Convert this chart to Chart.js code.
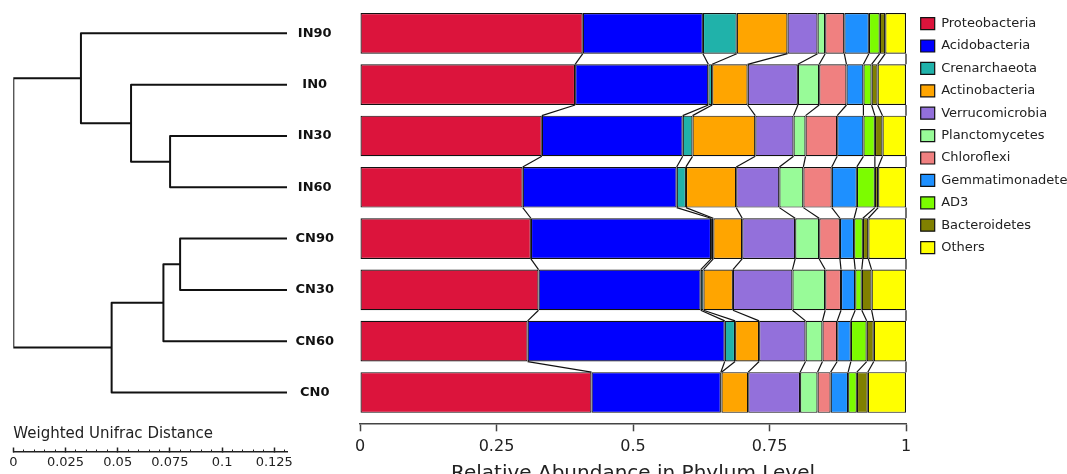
<!DOCTYPE html>
<html>
<head>
<meta charset="utf-8">
<script src="https://cdn.jsdelivr.net/npm/chart.js@4/dist/chart.umd.min.js"></script>
<style>
  body { margin: 0; background: #fff; }
  #wrap { position: relative; width: 1067px; height: 474px; background: #fff; }
  canvas { position: absolute; left: 0; top: 0; }
</style>
</head>
<body>
<div id="wrap">
  <canvas id="treeChart" width="1067" height="474"></canvas>
  <canvas id="barChart" width="1067" height="474"></canvas>
</div>
<script>
// Samples, top to bottom
const samples = ["IN90", "IN0", "IN30", "IN60", "CN90", "CN30", "CN60", "CN0"];

const phyla = [
  "Proteobacteria", "Acidobacteria", "Crenarchaeota", "Actinobacteria",
  "Verrucomicrobia", "Planctomycetes", "Chloroflexi", "Gemmatimonadetes",
  "AD3", "Bacteroidetes", "Others",
];

// Relative abundance per phylum, in sample order
const proteobacteria = [0.408, 0.394, 0.333, 0.298, 0.313, 0.327, 0.307, 0.424];
const acidobacteria = [0.220, 0.244, 0.258, 0.282, 0.330, 0.297, 0.361, 0.237];
const crenarchaeota = [0.062, 0.007, 0.018, 0.017, 0.004, 0.005, 0.019, 0.001];
const actinobacteria = [0.093, 0.065, 0.115, 0.092, 0.053, 0.054, 0.044, 0.049];
const verrucomicrobia = [0.055, 0.092, 0.070, 0.079, 0.097, 0.109, 0.085, 0.095];
const planctomycetes = [0.014, 0.039, 0.022, 0.044, 0.044, 0.060, 0.031, 0.032];
const chloroflexi = [0.035, 0.050, 0.058, 0.052, 0.038, 0.029, 0.027, 0.024];
const gemmatimonadetes = [0.045, 0.031, 0.048, 0.046, 0.026, 0.026, 0.025, 0.032];
const ad3 = [0.020, 0.015, 0.021, 0.033, 0.016, 0.012, 0.029, 0.016];
const bacteroidetes = [0.010, 0.011, 0.014, 0.006, 0.010, 0.018, 0.013, 0.020];
const others = [0.038, 0.052, 0.043, 0.051, 0.069, 0.063, 0.059, 0.070];

const abundance = [
  proteobacteria, acidobacteria, crenarchaeota, actinobacteria,
  verrucomicrobia, planctomycetes, chloroflexi, gemmatimonadetes,
  ad3, bacteroidetes, others,
];

// Tree merges: [child a, child b, height]; new nodes get ids 8, 9, ...
const merges = [
  [2, 3, 0.056],
  [1, 8, 0.0747],
  [0, 9, 0.0987],
  [4, 5, 0.0512],
  [11, 6, 0.0592],
  [12, 7, 0.084],
  [10, 13, 0.1311],
];

const abundanceTicks = [0, 0.25, 0.5, 0.75, 1];
const distanceTicks = [0, 0.025, 0.05, 0.075, 0.1, 0.125];

const phylumColors = [
  "#DC143C", "#0000FF", "#20B2AA", "#FFA500", "#9370DB", "#98FB98",
  "#F08080", "#1E90FF", "#7CFC00", "#808000", "#FFFF00",
];

Chart.defaults.font.family = "'DejaVu Sans', sans-serif";
Chart.defaults.color = "#222";

// Build dendrogram links from the merges
const nodeY = samples.map((_, i) => i);
const nodeH = samples.map(() => 0);
const links = merges.map(([a, b, h]) => {
  const link = [
    { x: nodeH[a], y: nodeY[a] },
    { x: h, y: nodeY[a] },
    { x: h, y: nodeY[b] },
    { x: nodeH[b], y: nodeY[b] },
  ];
  nodeY.push((nodeY[a] + nodeY[b]) / 2);
  nodeH.push(h);
  return link;
});
const treeMax = merges[merges.length - 1][2];

new Chart(document.getElementById("treeChart"), {
  type: "scatter",
  data: {
    datasets: links.map((link) => ({
      data: link,
      showLine: true,
      pointRadius: 0,
      borderColor: "#111",
      borderWidth: 2,
      borderJoinStyle: "round",
      tension: 0,
    })),
  },
  options: {
    responsive: false,
    animation: false,
    layout: { padding: { left: 13.3, right: 780, top: 7.7, bottom: 0 } },
    plugins: { legend: { display: false }, tooltip: { enabled: false } },
    scales: {
      x: { type: "linear", reverse: true, min: 0, max: treeMax, display: false },
      y: { type: "linear", reverse: true, min: -0.5, max: 7.6, display: false },
      distTitle: {
        axis: "x",
        type: "linear",
        position: "bottom",
        weight: 1,
        min: 0,
        max: treeMax,
        ticks: { display: false },
        grid: { display: false, drawTicks: false },
        border: { display: false },
        title: {
          display: true,
          text: "Weighted Unifrac Distance",
          align: "start",
          font: { size: 15 },
          padding: { top: 0, bottom: 9.3 },
        },
        afterFit: (s) => { s.height = 28.7; },
      },
      distMinor: {
        axis: "x",
        type: "linear",
        position: "bottom",
        weight: 2,
        min: 0,
        max: treeMax,
        ticks: { display: false, stepSize: 0.005, includeBounds: false },
        grid: { drawOnChartArea: false, tickLength: -2.5, tickColor: "#222", tickWidth: 1 },
        border: { display: false },
        afterFit: (s) => { s.height = 0; },
      },
      distMajor: {
        axis: "x",
        type: "linear",
        position: "bottom",
        weight: 3,
        min: 0,
        max: treeMax,
        afterBuildTicks: (s) => { s.ticks = distanceTicks.map((v) => ({ value: v })); },
        ticks: {
          callback: (v) => String(v),
          padding: 7,
          font: { size: 13 },
          autoSkip: false,
          maxRotation: 0,
        },
        grid: { drawOnChartArea: false, tickLength: -4.5, tickColor: "#222", tickWidth: 1.5 },
        border: { display: true, color: "#222", width: 1.5 },
        afterFit: (s) => { s.height = 22; },
      },
    },
  },
});

// Lines joining the segment boundaries of neighbouring bars
const connectorLines = {
  id: "connectorLines",
  afterDatasetsDraw(chart) {
    const ctx = chart.ctx;
    ctx.save();
    ctx.strokeStyle = "#111";
    ctx.lineWidth = 1.2;
    chart.data.datasets.forEach((ds, k) => {
      const bars = chart.getDatasetMeta(k).data;
      for (let i = 0; i < bars.length - 1; i++) {
        const a = bars[i];
        const b = bars[i + 1];
        ctx.beginPath();
        ctx.moveTo(a.x, a.y + a.height / 2);
        ctx.lineTo(b.x, b.y - b.height / 2);
        ctx.stroke();
      }
    });
    ctx.restore();
  },
};

new Chart(document.getElementById("barChart"), {
  type: "bar",
  data: {
    datasets: phyla.map((name, k) => ({
      label: name,
      data: abundance[k].map((v, i) => ({ x: v, y: i })),
      backgroundColor: phylumColors[k],
      borderColor: "#111",
      borderWidth: 1.2,
      borderSkipped: false,
      barPercentage: 0.793,
      categoryPercentage: 1,
    })),
  },
  plugins: [connectorLines],
  options: {
    indexAxis: "y",
    responsive: false,
    animation: false,
    layout: { padding: { left: 0, right: 0, top: 7.7, bottom: 0 } },
    plugins: {
      tooltip: { enabled: false },
      legend: {
        position: "right",
        align: "start",
        maxWidth: 155.7,
        labels: {
          boxWidth: 14,
          boxHeight: 12,
          padding: 9.4,
          font: { size: 13 },
          color: "#222",
        },
      },
    },
    scales: {
      x: {
        type: "linear",
        stacked: true,
        min: 0,
        max: 1,
        afterBuildTicks: (s) => { s.ticks = abundanceTicks.map((v) => ({ value: v })); },
        ticks: {
          callback: (v) => String(v),
          padding: 6,
          font: { size: 16 },
          color: "#222",
          maxRotation: 0,
        },
        grid: { drawOnChartArea: false, tickLength: 8, tickWidth: 1.5, tickColor: "#444" },
        border: { display: true, color: "#444", width: 1.5 },
        title: {
          display: true,
          text: "Relative Abundance in Phylum Level",
          font: { size: 20 },
          color: "#222",
          padding: { top: 0, bottom: -12 },
        },
        afterFit: (s) => { s.height = 50.7; },
      },
      y: {
        type: "linear",
        stacked: true,
        reverse: true,
        offset: false,
        min: -0.5,
        max: 7.6,
        afterBuildTicks: (s) => { s.ticks = samples.map((_, i) => ({ value: i })); },
        ticks: {
          callback: (v) => samples[v],
          font: { size: 13, weight: "bold" },
          color: "#111",
          crossAlign: "center",
          padding: 26,
          autoSkip: false,
        },
        grid: { display: false, drawTicks: false, offset: false },
        border: { display: false },
        afterFit: (s) => {
          s.width = 360;
          s.paddingTop = 0;
          s.paddingBottom = 0;
        },
      },
      pad: {
        axis: "y",
        type: "linear",
        position: "right",
        ticks: { display: false },
        grid: { display: false, drawTicks: false },
        border: { display: false },
        afterFit: (s) => { s.width = 5.3; },
      },
    },
  },
});
</script>
</body>
</html>
